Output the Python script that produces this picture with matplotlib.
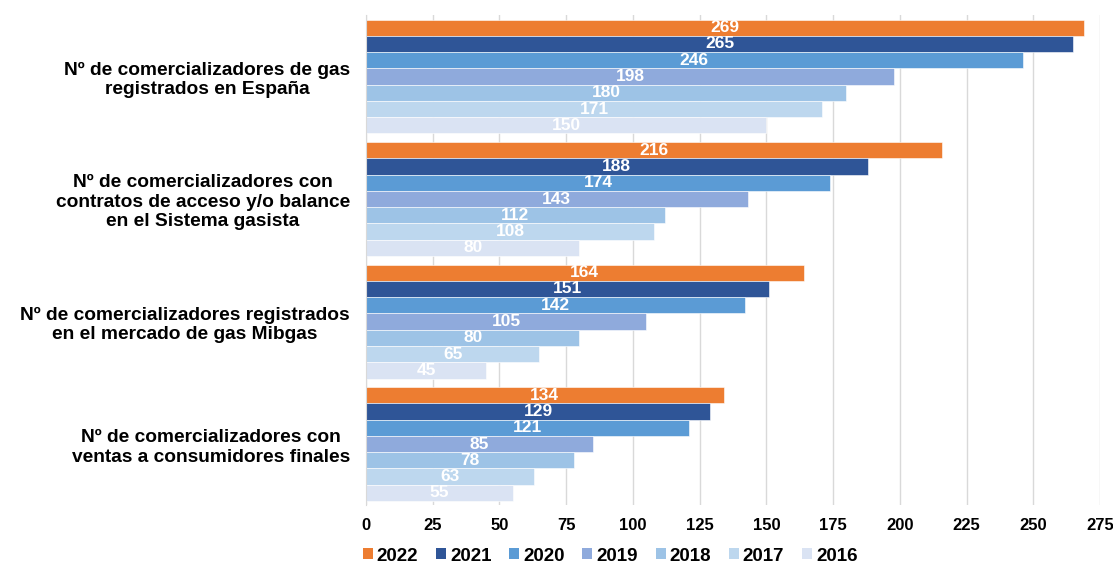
import numpy as np
import matplotlib
matplotlib.use("Agg")
import matplotlib.pyplot as plt
from matplotlib.patches import Patch

plt.rcParams["font.family"] = ["Liberation Sans", "DejaVu Sans"]

# ----------------------------------------------------------------------
# DATA
# ----------------------------------------------------------------------
categories = [
    "Nº de comercializadores de gas\nregistrados en España",
    "Nº de comercializadores con\ncontratos de acceso y/o balance\nen el Sistema gasista",
    "Nº de comercializadores registrados\nen el mercado de gas Mibgas",
    "Nº de comercializadores con\nventas a consumidores finales",
]
years = ["2022", "2021", "2020", "2019", "2018", "2017", "2016"]
v2022 = [269, 216, 164, 134]
v2021 = [265, 188, 151, 129]
v2020 = [246, 174, 142, 121]
v2019 = [198, 143, 105, 85]
v2018 = [180, 112, 80, 78]
v2017 = [171, 108, 65, 63]
v2016 = [150, 80, 45, 55]
series = [v2022, v2021, v2020, v2019, v2018, v2017, v2016]

colors = ["#ED7D31", "#2F5597", "#5B9BD5", "#8FAADC", "#9DC3E6", "#BDD7EE", "#DAE3F3"]

# ----------------------------------------------------------------------
# PLOT
# ----------------------------------------------------------------------
fig = plt.figure(figsize=(11.13, 5.64), dpi=100)
ax = fig.add_axes([0.3288, 0.104, 0.6595, 0.869])

n = len(years)
total = 0.93
h = total / n
ypos = np.arange(len(categories))

for i, (yr, vals, col) in enumerate(zip(years, series, colors)):
    y = ypos - total / 2 + h * (i + 0.5)
    bars = ax.barh(y, vals, height=h, color=col, edgecolor="white",
                   linewidth=0.4, zorder=3)
    ax.bar_label(bars, labels=[str(v) for v in vals], label_type="center",
                 color="white", fontsize=12.5, fontweight="bold")

ax.set_ylim(len(categories) - 0.5, -0.5)
ax.set_xlim(0, 275)
ax.set_xticks(np.arange(0, 276, 25))
ax.set_yticks(ypos)
ax.set_yticklabels(categories, fontsize=13.8, fontweight="bold",
                   ha="right", multialignment="center")
ax.tick_params(axis="y", length=0, pad=11.5)
ax.tick_params(axis="x", length=0, pad=9, labelsize=12)
for lab in ax.get_xticklabels():
    lab.set_fontweight("bold")

ax.grid(axis="x", color="#D9D9D9", linewidth=1, zorder=0)
for s in ["top", "right", "bottom"]:
    ax.spines[s].set_visible(False)
ax.spines["left"].set_color("#D9D9D9")
ax.spines["left"].set_zorder(4)

handles = [Patch(facecolor=c, label=y) for c, y in zip(colors, years)]
fig.legend(handles=handles, loc="center left", bbox_to_anchor=(0.326, 0.014),
           ncol=7, frameon=False, prop={"weight": "bold", "size": 13.5},
           handlelength=0.53, handleheight=0.53, handletextpad=0.21,
           columnspacing=0.95, borderaxespad=0, borderpad=0)

fig.savefig("out.png", dpi=100)
